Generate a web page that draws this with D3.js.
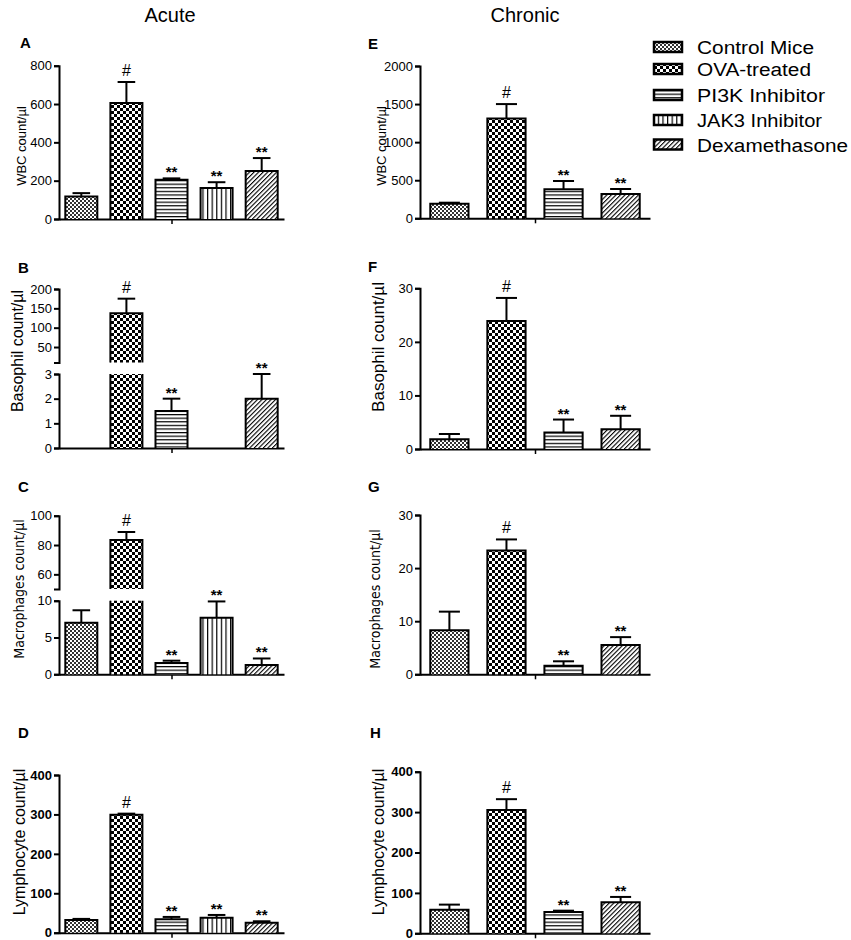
<!DOCTYPE html>
<html>
<head>
<meta charset="utf-8">
<script src="https://cdn.jsdelivr.net/npm/d3@7"></script>
<style>
  body { margin: 0; background: #fff; }
</style>
</head>
<body>
<script>
// groups
var acuteGroups = ["Control Mice", "OVA-treated", "PI3K Inhibitor", "JAK3 Inhibitor", "Dexamethasone"];
var chronicGroups = ["Control Mice", "OVA-treated", "PI3K Inhibitor", "Dexamethasone"];

// Acute (mean, SEM) - null = no bar
var wbcAcute = [118, 605, 205, 162, 250];
var wbcAcuteSem = [17, 110, 7, 30, 68];
var basoAcute = [null, 137, 1.5, null, 2.0];
var basoAcuteSem = [0, 38, 0.5, 0, 1.0];
var macroAcute = [7.0, 83.4, 1.55, 7.7, 1.25];
var macroAcuteSem = [1.7, 5.5, 0.3, 2.2, 0.9];
var lymphAcute = [32, 299, 34, 38, 25];
var lymphAcuteSem = [3, 3, 6, 7, 4];

// Chronic (mean, SEM)
var wbcChronic = [190, 1310, 380, 320];
var wbcChronicSem = [15, 190, 110, 65];
var basoChronic = [1.8, 23.9, 3.1, 3.7];
var basoChronicSem = [1.0, 4.3, 2.4, 2.5];
var macroChronic = [8.3, 23.3, 1.6, 5.5];
var macroChronicSem = [3.5, 2.1, 0.85, 1.5];
var lymphChronic = [58, 305, 53, 77];
var lymphChronicSem = [13, 27, 3, 13];

// significance marks
var acuteMarks = ["", "#", "**", "**", "**"];
var basoAcuteMarks = ["", "#", "**", "", "**"];
var chronicMarks = ["", "#", "**", "**"];

// tick labels
var wbcAcuteTicks = [0, 200, 400, 600, 800];
var basoAcuteTicksLow = [0, 1, 2, 3];
var basoAcuteTicksHigh = [50, 100, 150, 200];
var macroAcuteTicksLow = [0, 5, 10];
var macroAcuteTicksHigh = [60, 80, 100];
var lymphTicks = [0, 100, 200, 300, 400];
var wbcChronicTicks = [0, 500, 1000, 1500, 2000];
var basoChronicTicks = [0, 10, 20, 30];
var macroChronicTicks = [0, 10, 20, 30];

var font = "'Liberation Sans', Arial, sans-serif";

var svg = d3.select("body")
  .append("svg")
  .attr("width", 851)
  .attr("height", 940);

// fill patterns
var defs = svg.append("defs");
var patternId = {
  "Control Mice": "pCtrl",
  "OVA-treated": "pOva",
  "PI3K Inhibitor": "pPi3k",
  "JAK3 Inhibitor": "pJak3",
  "Dexamethasone": "pDex"
};

var pc = defs.append("pattern").attr("id", "pCtrl").attr("patternUnits", "userSpaceOnUse")
  .attr("width", 4).attr("height", 4);
pc.append("rect").attr("width", 4).attr("height", 4).attr("fill", "#fff");
pc.append("rect").attr("width", 2).attr("height", 2).attr("fill", "#333");
pc.append("rect").attr("x", 2).attr("y", 2).attr("width", 2).attr("height", 2).attr("fill", "#333");

var po = defs.append("pattern").attr("id", "pOva").attr("patternUnits", "userSpaceOnUse")
  .attr("width", 6).attr("height", 6);
po.append("rect").attr("width", 6).attr("height", 6).attr("fill", "#fff");
po.append("rect").attr("width", 3).attr("height", 3).attr("fill", "#000");
po.append("rect").attr("x", 3).attr("y", 3).attr("width", 3).attr("height", 3).attr("fill", "#000");

var ph = defs.append("pattern").attr("id", "pPi3k").attr("patternUnits", "userSpaceOnUse")
  .attr("width", 4).attr("height", 3.6);
ph.append("rect").attr("width", 4).attr("height", 3.6).attr("fill", "#fff");
ph.append("rect").attr("y", 0).attr("width", 4).attr("height", 1.2).attr("fill", "#000");

var pv = defs.append("pattern").attr("id", "pJak3").attr("patternUnits", "userSpaceOnUse")
  .attr("width", 4.6).attr("height", 4);
pv.append("rect").attr("width", 4.6).attr("height", 4).attr("fill", "#fff");
pv.append("rect").attr("x", 0).attr("width", 1.2).attr("height", 4).attr("fill", "#000");

var pd = defs.append("pattern").attr("id", "pDex").attr("patternUnits", "userSpaceOnUse")
  .attr("width", 3.2).attr("height", 3.2).attr("patternTransform", "rotate(45)");
pd.append("rect").attr("width", 3.2).attr("height", 3.2).attr("fill", "#fff");
pd.append("rect").attr("width", 1.1).attr("height", 3.2).attr("fill", "#000");

// column headers
svg.append("text").attr("x", 170).attr("y", 22).attr("text-anchor", "middle")
  .attr("font-family", font).attr("font-size", 20).text("Acute");
svg.append("text").attr("x", 525).attr("y", 22).attr("text-anchor", "middle")
  .attr("font-family", font).attr("font-size", 20).text("Chronic");

function drawPanel(p) {
  var x = d3.scaleBand()
    .domain(p.groups)
    .range(p.xr)
    .paddingInner(p.pi)
    .paddingOuter(p.po);
  var bw = x.bandwidth();
  var g = svg.append("g");

  // panel letter
  g.append("text").attr("x", p.letter[0]).attr("y", p.letter[1])
    .attr("font-family", font).attr("font-size", 15).attr("font-weight", "bold")
    .text(p.name);

  // y label
  g.append("text")
    .attr("transform", "translate(" + p.label[0] + "," + p.label[1] + ") rotate(-90)")
    .attr("text-anchor", "middle").attr("dy", "0.35em")
    .attr("font-family", p.labelFont || font).attr("font-size", p.labelSize)
    .text(p.ylabel);

  // y axis segments
  p.segs.forEach(function(s) {
    s.y = d3.scaleLinear().domain(s.dom).range(s.rng);
    var ax = g.append("g")
      .attr("transform", "translate(" + p.xr[0] + ",0)")
      .call(d3.axisLeft(s.y).tickValues(s.ticks).tickFormat(function(d) { return d; })
        .tickSize(5).tickPadding(2));
    ax.attr("font-family", font).attr("font-size", 13)
      .attr("font-weight", p.boldTicks ? "bold" : "normal");
    ax.select(".domain").attr("stroke-width", 2);
    ax.selectAll(".tick line").attr("stroke-width", 2);
    ax.selectAll(".tick text").attr("fill", "#000");
  });

  // x axis, single centred tick
  var y0 = p.segs[0].y(0);
  var xl = d3.scaleLinear().domain([0, 1]).range(p.xr);
  var xa = g.append("g")
    .attr("transform", "translate(0," + y0 + ")")
    .call(d3.axisBottom(xl).tickValues([0.5]).tickFormat("").tickSize(5).tickSizeOuter(0));
  xa.select(".domain").attr("stroke-width", 2);
  xa.selectAll(".tick line").attr("stroke-width", 1.5);

  // bars
  p.groups.forEach(function(grp, i) {
    var v = p.values[i];
    if (v == null) return;
    var bx = x(grp);
    p.segs.forEach(function(s) {
      var lo = s.dom[0], hi = s.dom[1];
      if (v <= lo) return;
      var top = Math.min(v, hi);
      var yt = s.y(top), yb = s.y(lo);
      g.append("rect")
        .attr("x", bx).attr("y", yt)
        .attr("width", bw).attr("height", yb - yt)
        .attr("fill", "url(#" + patternId[grp] + ")");
      var path = "M" + bx + "," + yb + "L" + bx + "," + yt;
      path += (v <= hi) ? "L" + (bx + bw) + "," + yt : "M" + (bx + bw) + "," + yt;
      path += "L" + (bx + bw) + "," + yb;
      g.append("path").attr("d", path)
        .attr("fill", "none").attr("stroke", "#000").attr("stroke-width", 2);
    });

    // error bar (upper only) in the segment holding the mean
    var seg = p.segs.filter(function(s) { return v > s.dom[0] && v <= s.dom[1]; })[0];
    var cx = bx + bw / 2;
    var ye = seg.y(v + p.sem[i]);
    var cw = bw * 0.55;
    if (p.sem[i] > 0) {
      g.append("line").attr("x1", cx).attr("x2", cx)
        .attr("y1", seg.y(v)).attr("y2", ye)
        .attr("stroke", "#000").attr("stroke-width", 2);
      g.append("line").attr("x1", cx - cw / 2).attr("x2", cx + cw / 2)
        .attr("y1", ye).attr("y2", ye)
        .attr("stroke", "#000").attr("stroke-width", 2);
    }
    var m = p.marks[i];
    if (m) {
      g.append("text").attr("x", cx).attr("y", ye - (m == "#" ? 6 : 1))
        .attr("text-anchor", "middle").attr("font-family", font)
        .attr("font-size", m == "#" ? 16 : 15).attr("font-weight", m == "#" ? "normal" : "bold")
        .text(m);
    }
  });
}

var leftX = [59, 284], rightX = [420, 650];

drawPanel({ name: "A", groups: acuteGroups, values: wbcAcute, sem: wbcAcuteSem, marks: acuteMarks,
  xr: leftX, pi: 0.29, po: 0.14, letter: [20, 48], label: [21, 146], labelSize: 13,
  ylabel: "WBC count/\u00b5l",
  segs: [{ dom: [0, 800], rng: [219, 65.7], ticks: wbcAcuteTicks }] });

drawPanel({ name: "B", groups: acuteGroups, values: basoAcute, sem: basoAcuteSem, marks: basoAcuteMarks,
  xr: leftX, pi: 0.29, po: 0.14, letter: [18, 273], label: [17, 351], labelSize: 16,
  ylabel: "Basophil count/\u00b5l",
  segs: [{ dom: [0, 3], rng: [448, 374], ticks: basoAcuteTicksLow },
         { dom: [10, 200], rng: [362.5, 289], ticks: basoAcuteTicksHigh }] });

drawPanel({ name: "C", groups: acuteGroups, values: macroAcute, sem: macroAcuteSem, marks: acuteMarks,
  xr: leftX, pi: 0.29, po: 0.14, letter: [18, 492], label: [19, 589], labelSize: 14,
  labelFont: "'Liberation Sans Narrow', 'DejaVu Sans Condensed', sans-serif",
  ylabel: "Macrophages count/\u00b5l",
  segs: [{ dom: [0, 10], rng: [674.3, 600.7], ticks: macroAcuteTicksLow },
         { dom: [50, 100], rng: [589, 515.7], ticks: macroAcuteTicksHigh }] });

drawPanel({ name: "D", groups: acuteGroups, values: lymphAcute, sem: lymphAcuteSem, marks: acuteMarks,
  xr: leftX, pi: 0.29, po: 0.14, letter: [18, 738], label: [19, 842], labelSize: 16, boldTicks: true,
  ylabel: "Lymphocyte count/\u00b5l",
  segs: [{ dom: [0, 400], rng: [932.7, 775], ticks: lymphTicks }] });

drawPanel({ name: "E", groups: chronicGroups, values: wbcChronic, sem: wbcChronicSem, marks: chronicMarks,
  xr: rightX, pi: 0.33, po: 0.18, letter: [368, 49], label: [381, 146], labelSize: 13,
  ylabel: "WBC count/\u00b5l",
  segs: [{ dom: [0, 2000], rng: [218.3, 66], ticks: wbcChronicTicks }] });

drawPanel({ name: "F", groups: chronicGroups, values: basoChronic, sem: basoChronicSem, marks: chronicMarks,
  xr: rightX, pi: 0.33, po: 0.18, letter: [368, 272], label: [378, 347], labelSize: 17,
  ylabel: "Basophil count/\u00b5l",
  segs: [{ dom: [0, 30], rng: [449, 288.3], ticks: basoChronicTicks }] });

drawPanel({ name: "G", groups: chronicGroups, values: macroChronic, sem: macroChronicSem, marks: chronicMarks,
  xr: rightX, pi: 0.33, po: 0.18, letter: [368, 492], label: [375, 599], labelSize: 14,
  labelFont: "'Liberation Sans Narrow', 'DejaVu Sans Condensed', sans-serif",
  ylabel: "Macrophages count/\u00b5l",
  segs: [{ dom: [0, 30], rng: [674.3, 515], ticks: macroChronicTicks }] });

drawPanel({ name: "H", groups: chronicGroups, values: lymphChronic, sem: lymphChronicSem, marks: chronicMarks,
  xr: rightX, pi: 0.33, po: 0.18, letter: [370, 738], label: [378, 842], labelSize: 16, boldTicks: true,
  ylabel: "Lymphocyte count/\u00b5l",
  segs: [{ dom: [0, 400], rng: [933.3, 771.7], ticks: lymphTicks }] });

// legend
var legendY = [47, 69, 95, 120, 144.5];
var legendW = [117, 114, 128, 125, 151];
var legend = svg.append("g");
acuteGroups.forEach(function(grp, i) {
  legend.append("rect")
    .attr("x", 654).attr("y", legendY[i] - 5)
    .attr("width", 28).attr("height", 10)
    .attr("fill", "url(#" + patternId[grp] + ")")
    .attr("stroke", "#000").attr("stroke-width", 2.5);
  legend.append("text")
    .attr("x", 697).attr("y", legendY[i] + 7)
    .attr("font-family", font).attr("font-size", 18)
    .attr("textLength", legendW[i]).attr("lengthAdjust", "spacingAndGlyphs")
    .text(grp);
});
</script>
</body>
</html>
